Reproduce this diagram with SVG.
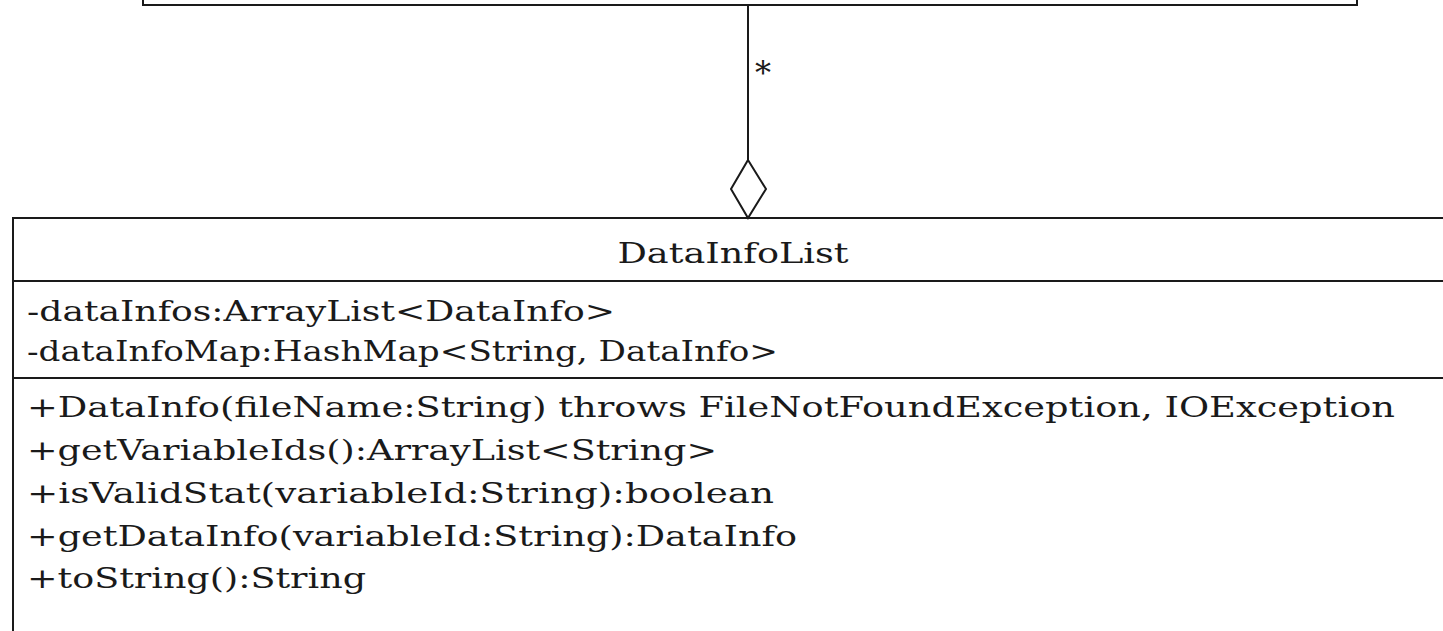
<svg xmlns="http://www.w3.org/2000/svg" width="1443" height="631" viewBox="0 0 1443 631">
  <style>
    .box { fill: #ffffff; stroke: #1a1a1a; stroke-width: 2; }
    .sep { stroke: #1a1a1a; stroke-width: 2; }
    .edge { fill: none; stroke: #1a1a1a; stroke-width: 2; }
    .diamond { fill: #ffffff; stroke: #1a1a1a; stroke-width: 2; }
    text { font-family: "DejaVu Serif", "Liberation Serif", serif; font-size: 28px; fill: #1a1a1a; }
    .mult { font-size: 32px; }
  </style>
  <rect x="0" y="0" width="1443" height="631" fill="#ffffff"/>
  <g id="node-top">
    <rect class="box" x="143" y="-20" width="1214" height="25"/>
  </g>
  <g id="node-DataInfoList">
    <rect class="box" x="13" y="218" width="1460" height="450"/>
    <text x="733" y="263" text-anchor="middle" textLength="231" lengthAdjust="spacingAndGlyphs">DataInfoList</text>
    <line class="sep" x1="13" y1="281" x2="1443" y2="281"/>
    <text x="27" y="321" textLength="588" lengthAdjust="spacingAndGlyphs">-dataInfos:ArrayList&lt;DataInfo&gt;</text>
    <text x="27" y="361" textLength="751" lengthAdjust="spacingAndGlyphs">-dataInfoMap:HashMap&lt;String, DataInfo&gt;</text>
    <line class="sep" x1="13" y1="378" x2="1443" y2="378"/>
    <text x="27" y="417" textLength="1368" lengthAdjust="spacingAndGlyphs">+DataInfo(fileName:String) throws FileNotFoundException, IOException</text>
    <text x="27" y="460" textLength="690" lengthAdjust="spacingAndGlyphs">+getVariableIds():ArrayList&lt;String&gt;</text>
    <text x="27" y="503" textLength="747" lengthAdjust="spacingAndGlyphs">+isValidStat(variableId:String):boolean</text>
    <text x="27" y="546" textLength="770" lengthAdjust="spacingAndGlyphs">+getDataInfo(variableId:String):DataInfo</text>
    <text x="27" y="588" textLength="339" lengthAdjust="spacingAndGlyphs">+toString():String</text>
  </g>
  <g id="connectors">
    <line class="edge" x1="748" y1="5" x2="748" y2="160"/>
    <polygon class="diamond" points="748,160 766,189 748,218 731,189"/>
    <text class="mult" x="755" y="84">*</text>
  </g>
</svg>
